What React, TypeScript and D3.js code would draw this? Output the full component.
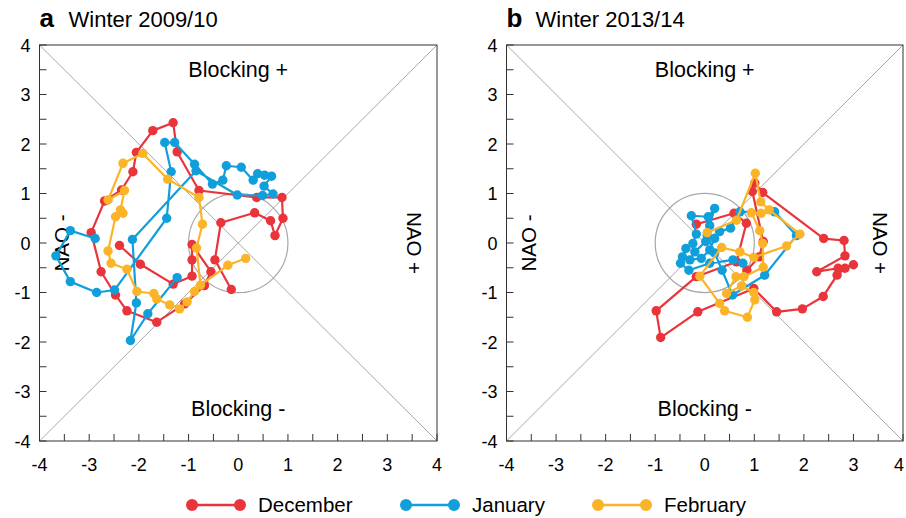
import React from "react";
import * as d3 from "d3";

type P = [number, number];

// Winter 2009/10
const decA: P[] = [
  [-0.14, -0.94], [-0.47, -0.34], [-0.35, 0.41], [0.33, 0.61], [0.65, 0.45], [0.74, 0.15],
  [0.9, 0.5], [0.88, 0.92], [0.37, 0.92], [-0.79, 1.06], [-1.23, 1.84], [-1.31, 2.43],
  [-1.72, 2.27], [-2.05, 1.83], [-2.12, 1.44], [-2.35, 1.07], [-2.69, 0.85], [-2.96, 0.21],
  [-2.76, -0.58], [-2.47, -1.05], [-2.24, -1.37], [-1.64, -1.6], [-1.08, -1.23], [-0.68, -0.86],
  [-0.55, -0.58], [-0.93, -0.03], [-0.93, -0.34], [-0.93, -0.67], [-1.31, -0.83], [-1.97, -0.43],
  [-2.39, -0.05],
];
const janA: P[] = [
  [-2.88, 0.09], [-3.38, 0.25], [-3.67, -0.26], [-3.38, -0.78], [-2.85, -1.0], [-2.49, -0.95],
  [-1.44, 0.5], [-1.35, 1.44], [-1.48, 2.03], [-1.28, 2.03], [-0.88, 1.59], [-0.52, 1.19],
  [-0.31, 1.27], [-0.24, 1.56], [0.06, 1.53], [0.3, 1.27], [0.39, 1.4], [0.53, 1.37],
  [0.67, 1.35], [0.52, 1.15], [0.7, 0.99], [0.49, 0.96], [-0.02, 0.97], [-0.85, 1.46],
  [-2.13, 0.07], [-2.05, -1.21], [-2.17, -1.97], [-1.82, -1.43], [-1.23, -0.7],
];
const febA: P[] = [
  [-0.88, -0.98], [-1.03, -1.19], [-1.18, -1.33], [-1.38, -1.25], [-1.64, -1.13], [-1.7, -1.02],
  [-2.04, -0.98], [-2.24, -0.53], [-2.56, -0.41], [-2.62, -0.16], [-2.47, 0.53], [-2.32, 0.6],
  [-2.37, 0.67], [-2.29, 1.06], [-2.62, 0.87], [-2.32, 1.61], [-1.92, 1.81], [-1.42, 1.29],
  [-0.79, 0.92], [-0.72, 0.38], [-0.84, -0.1], [-0.76, -0.85], [-0.21, -0.45], [0.15, -0.31],
];

// Winter 2013/14
const decB: P[] = [
  [-0.17, 0.38], [0.59, 0.6], [0.84, 0.4], [0.64, -0.38], [-0.17, -0.68], [-0.98, -1.37],
  [-0.89, -1.91], [-0.14, -1.39], [0.99, -0.92], [1.45, -1.39], [1.97, -1.33], [2.39, -1.08],
  [2.67, -0.65], [2.83, -0.51], [3.0, -0.44], [2.69, -0.51], [2.26, -0.58], [2.83, -0.26],
  [2.81, 0.05], [2.4, 0.09], [1.17, 1.02], [1.01, 1.21], [0.96, 1.04], [1.18, 0.03],
  [1.1, -0.28], [0.85, -0.55],
];
const janB: P[] = [
  [0.77, -0.41], [0.57, -0.34], [0.1, -0.41], [-0.32, -0.55], [-0.49, -0.41], [-0.45, -0.28],
  [-0.38, -0.11], [-0.24, -0.01], [-0.17, 0.18], [-0.27, 0.55], [0.07, 0.53], [0.2, 0.7],
  [0.1, 0.35], [0.02, 0.03], [-0.2, -0.18], [-0.3, -0.34], [-0.07, -0.31], [0.1, -0.14],
  [0.2, 0.09], [0.3, 0.23], [0.52, 0.3], [0.71, 0.63], [1.41, 0.63], [1.85, 0.15],
  [1.21, -0.65], [0.56, -1.05], [0.35, -0.55], [0.2, -0.2], [0.05, 0.15],
];
const febB: P[] = [
  [0.05, 0.21], [0.64, 0.46], [1.02, 1.41], [1.13, 0.83], [1.3, 0.67], [1.92, 0.18],
  [1.65, -0.06], [0.99, -0.29], [0.71, -0.18], [0.34, -0.09], [-0.1, -0.67], [0.3, -1.22],
  [0.4, -1.37], [0.86, -1.5], [1.01, -1.15], [0.99, -1.0], [0.74, -0.87], [0.44, -1.02],
  [0.63, -0.68], [0.79, -0.68], [1.18, -0.49], [1.17, -0.01], [1.11, 0.25], [0.94, 0.61],
  [1.14, 0.6],
];

const ticks = [-4, -3, -2, -1, 0, 1, 2, 3, 4];
const minorTicks = d3.range(-4, 4.01, 0.5);
const months = ["December", "January", "February"];
const colors = ["#e8343a", "#119fdc", "#fbb427"];

const panels = [
  { letter: "a", title: "Winter 2009/10", series: [decA, janA, febA], x0: 39.5, x1: 437 },
  { letter: "b", title: "Winter 2013/14", series: [decB, janB, febB], x0: 506.5, x1: 903 },
];

const FONT = "'Liberation Sans', Arial, Helvetica, sans-serif";

function Panel({ p }: { p: (typeof panels)[number] }) {
  const x = d3.scaleLinear().domain([-4, 4]).range([p.x0, p.x1]);
  const y = d3.scaleLinear().domain([-4, 4]).range([441, 45]);
  const line = d3.line<P>().x((d) => x(d[0])).y((d) => y(d[1]));
  const cx = x(0), cy = y(0);
  const r = x(1) - x(0);
  return (
    <g>
      <text x={p.x0} y={27} fontFamily={FONT} fontSize={26} fontWeight="bold">{p.letter}</text>
      <text x={p.x0 + 29} y={27} fontFamily={FONT} fontSize={22}>{p.title}</text>
      <line x1={x(-4)} y1={y(4)} x2={x(4)} y2={y(-4)} stroke="#a8a8a8" strokeWidth={1} />
      <line x1={x(-4)} y1={y(-4)} x2={x(4)} y2={y(4)} stroke="#a8a8a8" strokeWidth={1} />
      <circle cx={cx} cy={cy} r={r} fill="none" stroke="#a8a8a8" strokeWidth={1.2} />
      <rect x={x(-4)} y={y(4)} width={x(4) - x(-4)} height={y(-4) - y(4)} fill="none" stroke="#333" strokeWidth={1} />
      {minorTicks.map((t) => (
        <g key={"t" + t}>
          <line x1={x(t)} x2={x(t)} y1={y(-4)} y2={y(-4) - 7} stroke="#333" />
          <line x1={x(-4)} x2={x(-4) + 7} y1={y(t)} y2={y(t)} stroke="#333" />
        </g>
      ))}
      {ticks.map((t) => (
        <g key={"l" + t}>
          <text x={Math.min(x(t), 899)} y={471} textAnchor="middle" fontFamily={FONT} fontSize={18}>{t}</text>
          <text x={x(-4) - 9} y={y(t) + 6.5} textAnchor="end" fontFamily={FONT} fontSize={18}>{t}</text>
        </g>
      ))}
      <text x={cx} y={y(3.35)} textAnchor="middle" fontFamily={FONT} fontSize={21.5}>Blocking +</text>
      <text x={cx} y={y(-3.5)} textAnchor="middle" fontFamily={FONT} fontSize={21.5}>Blocking -</text>
      <text transform={`translate(${x(-3.55)},${cy}) rotate(-90)`} textAnchor="middle" fontFamily={FONT} fontSize={20.5} dy={7.5}>NAO -</text>
      <text transform={`translate(${x(3.55)},${cy}) rotate(90)`} textAnchor="middle" fontFamily={FONT} fontSize={20.5} dy={7.5}>NAO +</text>
      {p.series.map((s, i) => (
        <g key={i}>
          <path d={line(s) || ""} fill="none" stroke={colors[i]} strokeWidth={2.2} strokeLinejoin="round" />
          {s.map((d, j) => (
            <circle key={j} cx={x(d[0])} cy={y(d[1])} r={4.7} fill={colors[i]} />
          ))}
        </g>
      ))}
    </g>
  );
}

export default function App() {
  const legendX = [192, 406, 598];
  return (
    <svg width={906} height={518} style={{ position: "absolute", left: 0, top: 0, background: "#fff" }}>
      {panels.map((p) => (
        <Panel key={p.letter} p={p} />
      ))}
      {months.map((m, i) => (
        <g key={m}>
          <line x1={legendX[i]} x2={legendX[i] + 48} y1={505} y2={505} stroke={colors[i]} strokeWidth={2.5} />
          <circle cx={legendX[i]} cy={505} r={6} fill={colors[i]} />
          <circle cx={legendX[i] + 48} cy={505} r={6} fill={colors[i]} />
          <text x={legendX[i] + 66} y={512} fontFamily={FONT} fontSize={20.5}>{m}</text>
        </g>
      ))}
    </svg>
  );
}
